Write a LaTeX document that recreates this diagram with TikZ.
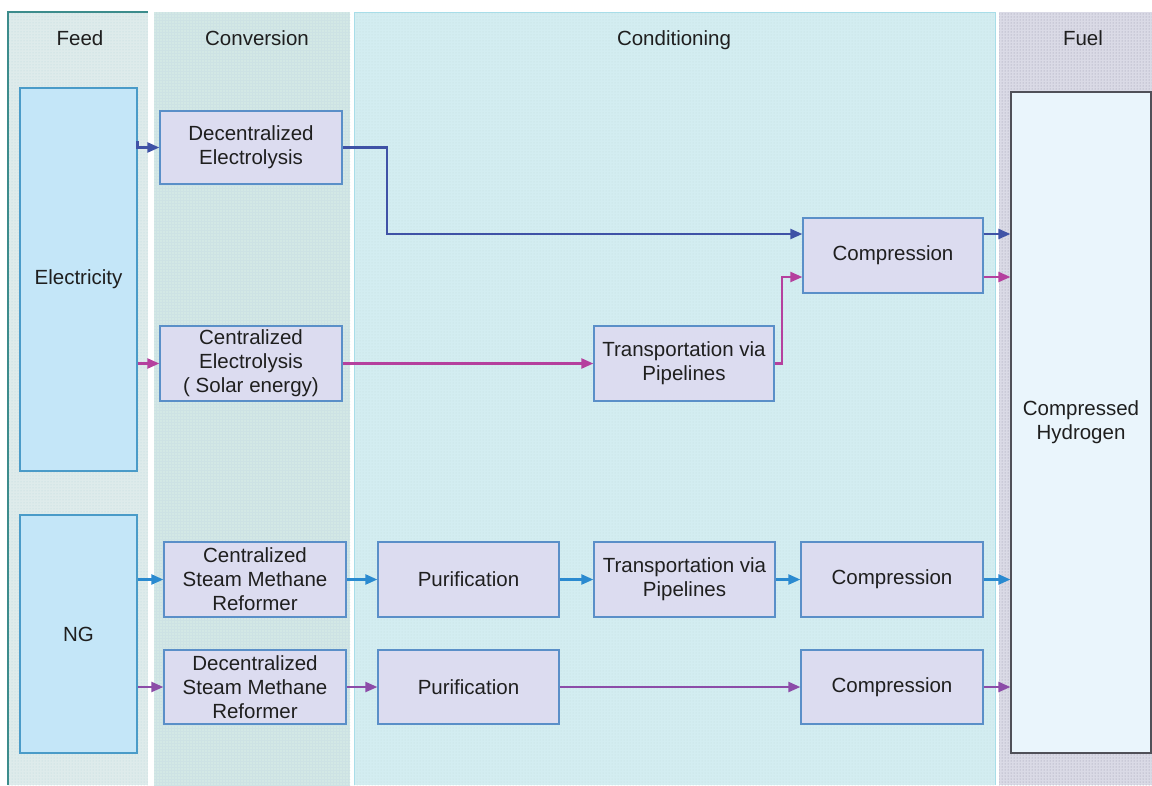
\documentclass[tikz,border=0pt]{standalone}
\usepackage{fontspec}
\setmainfont{Liberation Sans}
\usetikzlibrary{arrows.meta,patterns}

% palette
\definecolor{feedbg}{HTML}{DEEBEB}
\definecolor{feededge}{HTML}{3C8C8C}
\definecolor{convbg}{HTML}{D3E8E5}
\definecolor{condbg}{HTML}{D3EDF1}
\definecolor{condedge}{HTML}{A8DDE8}
\definecolor{fuelbg}{HTML}{DADAE6}
\definecolor{fueledge}{HTML}{B9B9D2}
\definecolor{dotcol}{HTML}{9CC6CA}
\definecolor{procfill}{HTML}{DCDCF0}
\definecolor{procedge}{HTML}{5A8FC8}
\definecolor{srcfill}{HTML}{C4E6F8}
\definecolor{srcedge}{HTML}{4A9BC8}
\definecolor{fuelfill}{HTML}{EAF5FC}
\definecolor{fueldraw}{HTML}{505058}
\definecolor{flowA}{HTML}{3F52A6}
\definecolor{flowB}{HTML}{B5409E}
\definecolor{flowC}{HTML}{2A8AD0}
\definecolor{flowD}{HTML}{8C4CA8}

\tikzset{
  txt/.style={font=\fontsize{20.5}{24}\selectfont, text=black!88},
  procbox/.style={txt, draw=procedge, fill=procfill, line width=1.3pt,
    minimum width=#1, minimum height=75pt, inner sep=0pt, align=center},
  procbox/.default=182pt,
  srcbox/.style={txt, draw=srcedge, fill=srcfill, line width=1.2pt,
    minimum width=117pt, inner sep=0pt, align=center},
  flow/.style={line width=2.3pt, -{Triangle[length=12pt,width=10pt]}},
  head/.style={txt, anchor=base},
}

\begin{document}
\begin{tikzpicture}[x=1pt,y=-1pt]
\useasboundingbox (0,0) rectangle (1152,785);
\fill[white] (0,0) rectangle (1152,785);

% column bands
\fill[feedbg] (8,12) rectangle (148,785);
\fill[pattern=dots, pattern color=dotcol!70] (8,12) rectangle (148,785);
\draw[feededge, line width=1.2pt] (8,785) -- (8,12) -- (148,12);
\fill[convbg] (154,12) rectangle (350,785);
\fill[pattern=grid, pattern color=dotcol!50] (154,12) rectangle (350,785);
\fill[condbg] (354,12) rectangle (995,785);
\fill[pattern=dots, pattern color=dotcol!60] (354,12) rectangle (995,785);
\draw[condedge, line width=1pt] (354,785) -- (354,12) -- (995,12) -- (995,785);
\fill[fuelbg] (999,12) rectangle (1152,785);
\fill[pattern=dots, pattern color=fueledge!80!black] (999,12) rectangle (1152,785);

% column headings
\node[head] (hfeed) at (80,45) {Feed};
\node[head] (hconv) at (257,45) {Conversion};
\node[head] (hcond) at (674,45) {Conditioning};
\node[head] (hfuel) at (1083,45) {Fuel};

% feedstocks
\node[srcbox, minimum height=383pt] (elec) at (78.5,279.5) {Electricity};
\node[srcbox, minimum height=238pt] (ng) at (78.5,634) {NG};

% product
\node[txt, draw=fueldraw, fill=fuelfill, line width=1.2pt, minimum width=140pt,
      minimum height=661pt, inner sep=0pt, align=center] (h2) at (1081,422.5)
      {Compressed\\Hydrogen};

% process steps
\node[procbox, minimum height=73pt] (dele) at (251,147.5) {Decentralized\\Electrolysis};
\node[procbox] (cele) at (251,363.5) {Centralized\\Electrolysis\\( Solar energy)};
\node[procbox=180pt] (tpa) at (684,363.5) {Transportation via\\Pipelines};
\node[procbox=180pt] (cpa) at (893,255.5) {Compression};

\node[procbox] (csmr) at (255,579.5) {Centralized\\Steam Methane\\Reformer};
\node[procbox=181pt] (pua) at (468.5,579.5) {Purification};
\node[procbox=181pt] (tpb) at (684.5,579.5) {Transportation via\\Pipelines};
\node[procbox] (cpb) at (892,579.5) {Compression};

\node[procbox, minimum height=74pt] (dsmr) at (255,687) {Decentralized\\Steam Methane\\Reformer};
\node[procbox=181pt, minimum height=74pt] (pub) at (468.5,687) {Purification};
\node[procbox, minimum height=74pt] (cpc) at (892,687) {Compression};

% decentralized electrolysis route
\coordinate (jA) at (387,234);
\draw[flow, flowA] ([yshift=7pt]elec.east |- dele.west) -- (elec.east |- dele.west) -- (dele.west);
\draw[flow, flowA] (dele.east) -| (jA) -- ([yshift=21.5pt]cpa.west);
\coordinate (oA) at ([yshift=21.5pt]cpa.east);
\draw[flow, flowA] (oA) -- (h2.west |- oA);

% centralized electrolysis route
\draw[flow, flowB] (elec.east |- cele.west) -- (cele.west);
\draw[flow, flowB] (cele.east) -- (tpa.west);
\draw[flow, flowB] (tpa.east) -- ++(7,0) |- ([yshift=-21.5pt]cpa.west);
\coordinate (oB) at ([yshift=-21.5pt]cpa.east);
\draw[flow, flowB] (oB) -- (h2.west |- oB);

% centralized reforming route
\draw[flow, flowC] (ng.east |- csmr.west) -- (csmr.west);
\draw[flow, flowC] (csmr.east) -- (pua.west);
\draw[flow, flowC] (pua.east) -- (tpb.west);
\draw[flow, flowC] (tpb.east) -- (cpb.west);
\draw[flow, flowC] (cpb.east) -- (h2.west |- cpb.east);

% decentralized reforming route
\draw[flow, flowD] (ng.east |- dsmr.west) -- (dsmr.west);
\draw[flow, flowD] (dsmr.east) -- (pub.west);
\draw[flow, flowD] (pub.east) -- (cpc.west);
\draw[flow, flowD] (cpc.east) -- (h2.west |- cpc.east);
\end{tikzpicture}
\end{document}
